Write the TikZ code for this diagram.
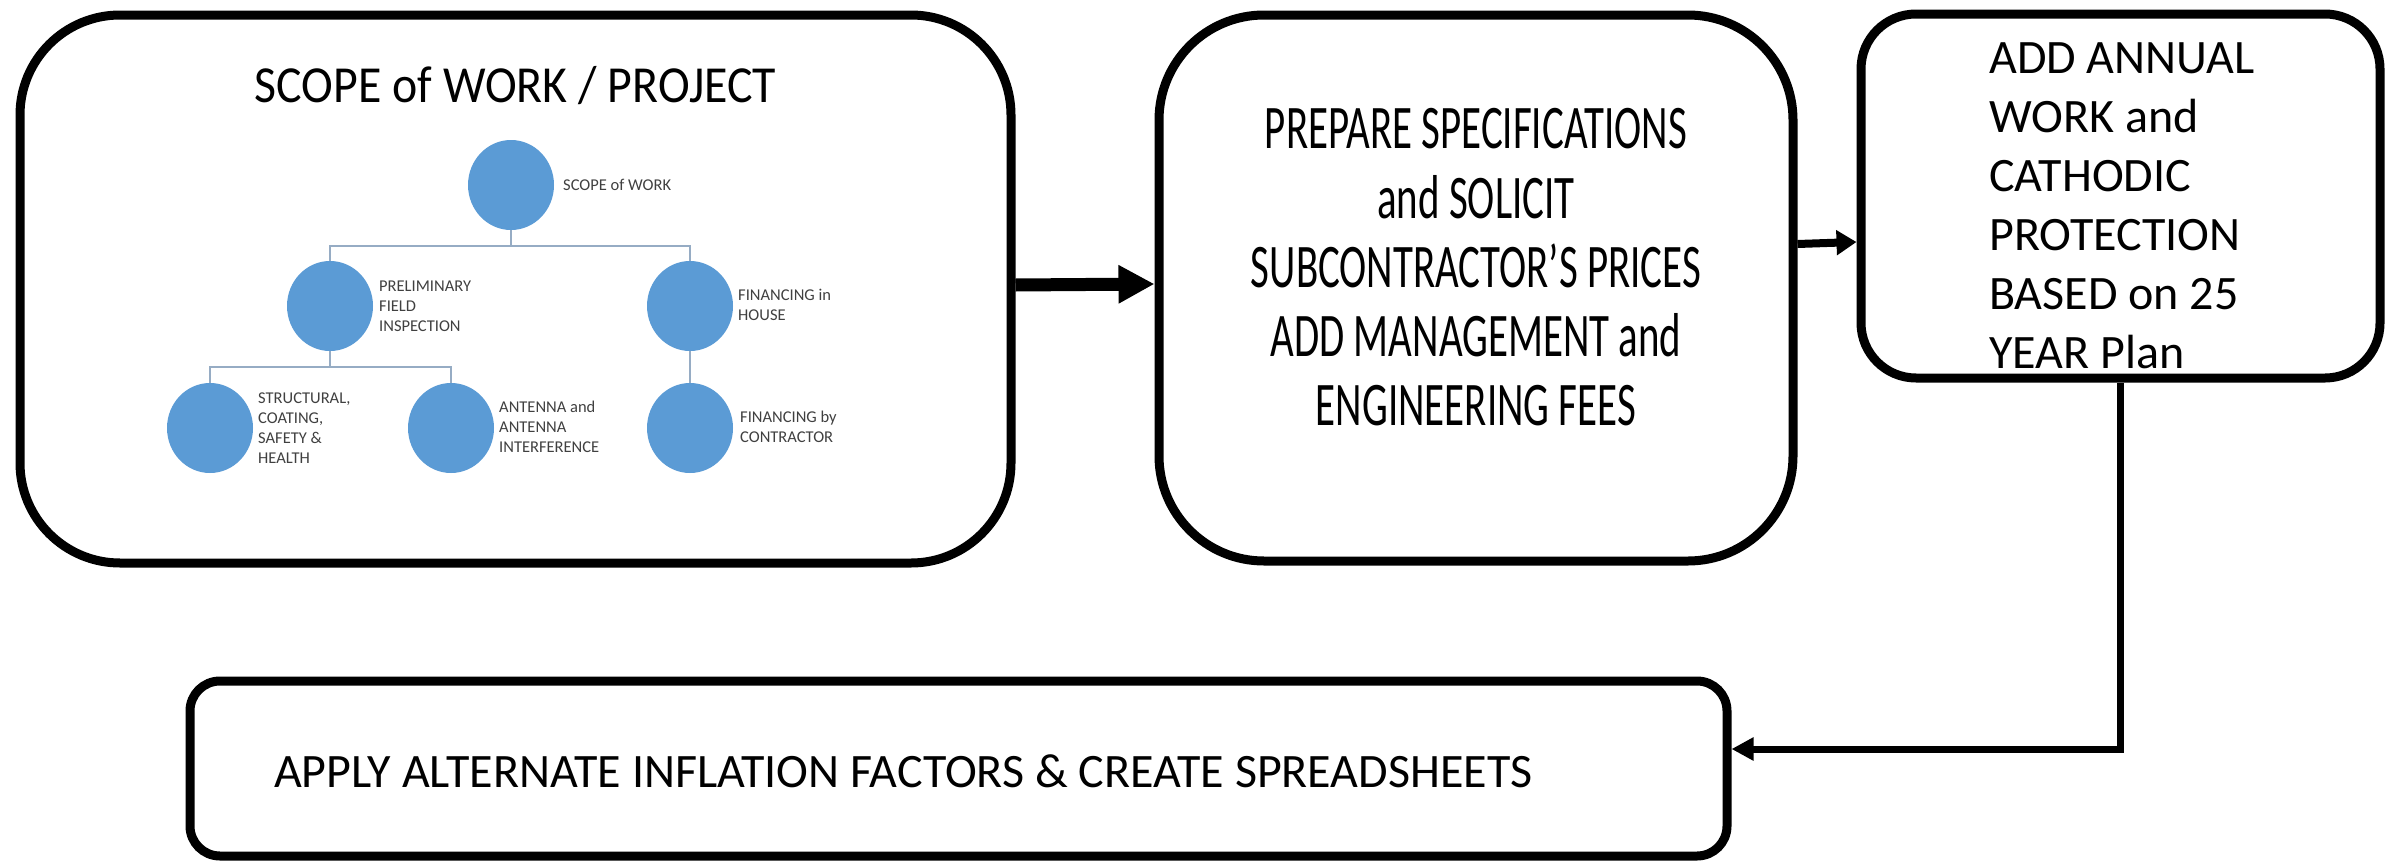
\documentclass[tikz,border=0pt]{standalone}
\usepackage{fontspec}
\setmainfont{Carlito}
\newfontfamily\narrowfont[FakeStretch=0.66]{Carlito}
\newfontfamily\titlefont[FakeStretch=0.92]{Carlito}
\usetikzlibrary{arrows.meta,shapes.geometric}
\definecolor{nodeblue}{RGB}{91,155,213}
\definecolor{treeline}{RGB}{150,172,196}
\definecolor{labelgray}{RGB}{64,64,64}

\begin{document}
\begin{tikzpicture}[x=1pt,y=-1pt,
  panel/.style={draw=black, line width=9pt, fill=white, rounded corners=#1, inner sep=0pt},
  bubble/.style={ellipse, fill=nodeblue, minimum width=86pt, minimum height=90pt, inner sep=0pt},
  tag/.style={anchor=west, align=left, inner sep=0pt, text=labelgray, font=\fontsize{16.5}{20}\selectfont},
  branch/.style={draw=treeline, line width=2pt},
  flow/.style={draw=black, line join=miter, -{Triangle[length=#1,width=#1]}},
]
\useasboundingbox (0,0) rectangle (2387,862);

% process panels
\node[panel=100pt, minimum width=991pt, minimum height=548pt] (scope) at (515.5,289) {};
\node[panel=105pt, minimum width=634pt, minimum height=546pt] (spec) at (1476,288) {};
\node[panel=55pt, minimum width=519pt, minimum height=364pt] (annual) at (2120.5,196) {};
\node[panel=30pt, minimum width=1537pt, minimum height=175pt] (apply) at (958.5,768.5) {};

% panel texts
\node[anchor=base, inner sep=0pt, font=\titlefont\fontsize{52}{62}\selectfont] (title) at (515.5,102) {SCOPE of WORK / PROJECT};
\node[anchor=center, align=center, inner sep=0pt, font=\narrowfont\fontsize{62}{69.25}\selectfont] (spectext) at (1476,267.5)
  {PREPARE SPECIFICATIONS\\and SOLICIT\\SUBCONTRACTOR’S PRICES\\ADD MANAGEMENT and\\ENGINEERING FEES};
\node[anchor=west, align=left, inner sep=0pt, font=\fontsize{48}{59}\selectfont] (annualtext) at (1989,205.6)
  {ADD ANNUAL\\WORK and\\CATHODIC\\PROTECTION\\BASED on 25\\YEAR Plan};
\node[anchor=base west, inner sep=0pt, font=\fontsize{48}{58}\selectfont] (applytext) at (274,787)
  {APPLY ALTERNATE INFLATION FACTORS \& CREATE SPREADSHEETS};

% scope of work tree
\node[bubble] (root) at (511,185) {};
\node[bubble] (pfi) at (330,306) {};
\node[bubble] (fih) at (690,306) {};
\node[bubble] (sch) at (210,428) {};
\node[bubble] (ant) at (451,428) {};
\node[bubble] (fbc) at (690,428) {};

\node[tag] (rootlbl) at (563,185) {SCOPE of WORK};
\node[tag] (pfilbl) at (379,306) {PRELIMINARY\\FIELD\\INSPECTION};
\node[tag] (fihlbl) at (738,305) {FINANCING in\\HOUSE};
\node[tag] (schlbl) at (258,428) {STRUCTURAL,\\COATING,\\SAFETY \&\\HEALTH};
\node[tag] (antlbl) at (499,427) {ANTENNA and\\ANTENNA\\INTERFERENCE};
\node[tag] (fbclbl) at (740,427) {FINANCING by\\CONTRACTOR};

\coordinate (j1) at (511,246);
\coordinate (j2) at (330,367);
\draw[branch] (root.south) -- (j1);
\draw[branch] (j1) -| (pfi.north);
\draw[branch] (j1) -| (fih.north);
\draw[branch] (pfi.south) -- (j2);
\draw[branch] (j2) -| (sch.north);
\draw[branch] (j2) -| (ant.north);
\draw[branch] (fih.south) -- (fbc.north);

% flow between panels
\draw[flow=36pt, line width=13pt] ([yshift=4pt]scope.east) -- ([yshift=4pt]spec.west);
\draw[draw=black, line width=8pt, -{Triangle[length=20pt,width=24pt]}] ([yshift=44pt]spec.east) -- ([yshift=-46pt]annual.west);
\draw[flow=22pt, line width=7pt] (annual.south) |- ([yshift=19.5pt]apply.east);
\end{tikzpicture}
\end{document}
